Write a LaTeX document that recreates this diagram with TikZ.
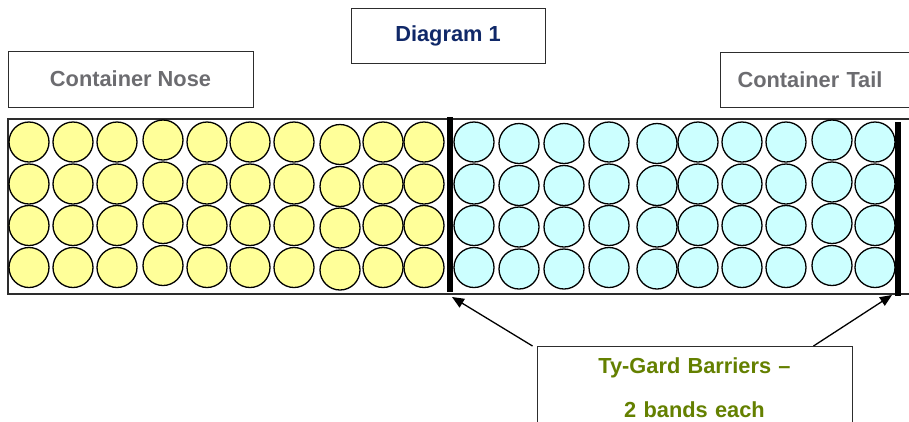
\documentclass[tikz,border=0pt]{standalone}
\usepackage{fontspec}
\setmainfont{Liberation Sans}
\usetikzlibrary{arrows.meta}

\definecolor{noseyellow}{RGB}{255,255,153}
\definecolor{tailcyan}{RGB}{204,255,255}
\definecolor{labelgray}{RGB}{108,108,112}
\definecolor{titlenavy}{RGB}{16,40,104}
\definecolor{noteolive}{RGB}{100,128,0}
\definecolor{framegray}{RGB}{45,45,45}

\begin{document}
\begin{tikzpicture}[x=1pt, y=-1pt, >={Triangle[length=12pt, width=10pt]},
    labelbox/.style={draw=framegray, line width=1pt, inner sep=0pt,
      font=\bfseries\fontsize{21.8}{26}\selectfont},
    ball/.style={draw=black, line width=1.3pt},
    barrier/.style={line width=6pt},
    pointer/.style={->, line width=1.3pt}]
  % page frame, everything past the edge is cut off
  \useasboundingbox (0,0) rectangle (909,421);
  \clip (0,0) rectangle (909,421);

  % 1. header labels
  \node[labelbox, text=labelgray, minimum width=245pt, minimum height=56pt] (nose) at (130.5,79) {Container Nose};
  \node[labelbox, text=titlenavy, minimum width=194pt, minimum height=55pt] (title) at (448,35.5) {Diagram 1};
  \node[labelbox, text=labelgray, anchor=west, align=left, text width=190pt, inner xsep=17pt,
        minimum height=55pt] (tail) at (720,79.5) {Container Tail};

  % 2. container outline
  \draw[framegray, line width=1.6pt] (8,119) rectangle (930,294);

  % 3. load: yellow half at the nose, cyan half at the tail
  \foreach \cx/\dy in {29/0,73/0,117/0,163/-2,207/0,250/0,294/0,340/2.5,383/0,424/0}
    \foreach \cy in {142,184,225.5,267.5}
      \draw[ball, fill=noseyellow] (\cx,{\cy+(\dy)}) circle (20);
  \foreach \cx/\dy in {474/0,519/1.5,564/1.5,609/0,657/1.5,698/0,742/0,786/0,832/-2,875/0}
    \foreach \cy in {142,184,225.5,267.5}
      \draw[ball, fill=tailcyan] (\cx,{\cy+(\dy)}) circle (20);

  % 4. barriers
  \draw[barrier] (450,117) -- (450,292);
  \draw[barrier] (898,122) -- (898,296);
  \coordinate (gateL) at (452,297);
  \coordinate (gateR) at (892,295);

  % 5. note box with pointers
  \node[draw=framegray, line width=1pt, text=noteolive, anchor=north, text width=315pt, align=center,
        inner xsep=0pt, inner ysep=11.4pt, font=\bfseries\fontsize{21.8}{44}\selectfont]
        (note) at (694.5,346) {Ty-Gard Barriers –\\2 bands each};
  \draw[pointer] ([xshift=-4pt]note.north west) -- (gateL);
  \draw[pointer] ([xshift=-39pt]note.north east) -- (gateR);
\end{tikzpicture}
\end{document}
